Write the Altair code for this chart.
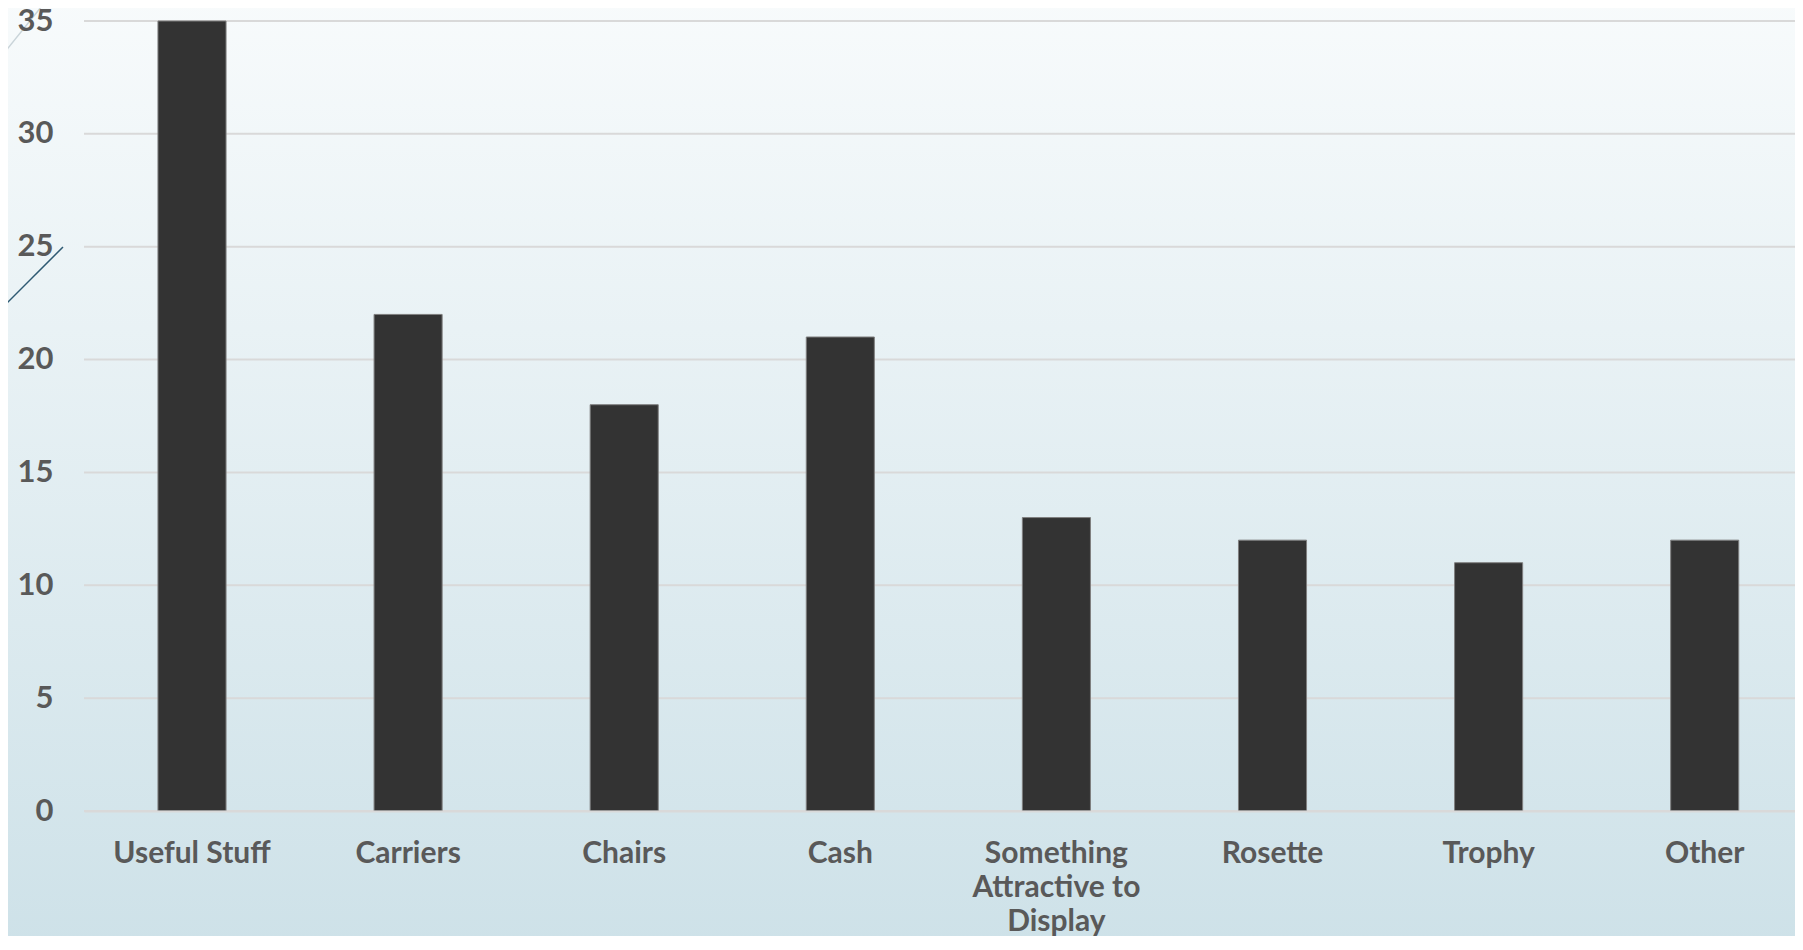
import altair as alt
import pandas as pd

categories = ["Useful Stuff", "Carriers", "Chairs", "Cash",
              "Something Attractive to Display", "Rosette", "Trophy", "Other"]
values = [35, 22, 18, 21, 13, 12, 11, 12]
y_ticks = [0, 5, 10, 15, 20, 25, 30, 35]

W = 1711
H = 790

df = pd.DataFrame({"cat": categories, "val": values})
grid_df = pd.DataFrame({"v": y_ticks})
one = pd.DataFrame({"a": [0]})

font = "Lato"
label_color = "#595959"

gradient = {
    "gradient": "linear", "x1": 0, "y1": 0, "x2": 0, "y2": 1,
    "stops": [{"offset": 0, "color": "#f8fbfc"}, {"offset": 1, "color": "#cde1e8"}],
}

bg = alt.Chart(one).mark_rect(fill=gradient, strokeWidth=0).encode(
    x=alt.value(-90), x2=alt.value(W + 20), y=alt.value(-30), y2=alt.value(H + 150)
)

deco1 = alt.Chart(one).mark_rule(color="#c9d4d9", strokeWidth=1.5).encode(
    x=alt.value(-84), x2=alt.value(-30), y=alt.value(37), y2=alt.value(-30)
)
deco2 = alt.Chart(one).mark_rule(color="#2e5a73", strokeWidth=1.5).encode(
    x=alt.value(-84), x2=alt.value(-21), y=alt.value(289), y2=alt.value(226)
)

grid = alt.Chart(grid_df).mark_rule(color="#d9d9d9", strokeWidth=2).encode(
    y=alt.Y("v:Q"), x=alt.value(0), x2=alt.value(W)
)

label_expr = ("datum.label == 'Something Attractive to Display' ? "
              "['Something', 'Attractive to', 'Display'] : datum.label")

bars = alt.Chart(df).mark_bar(color="#333333", stroke="#7f7f7f", strokeWidth=1).encode(
    x=alt.X("cat:N", sort=categories,
            scale=alt.Scale(paddingInner=0.685, paddingOuter=0.3013, align=0.568),
            axis=alt.Axis(title=None, labelAngle=0, ticks=False, domain=True,
                          domainColor="#d9d9d9", domainWidth=2, labelPadding=27,
                          labelFont=font, labelFontWeight="bold", labelFontSize=30,
                          labelColor=label_color, labelLimit=400, labelLineHeight=34,
                          labelExpr=label_expr, zindex=1)),
    y=alt.Y("val:Q", scale=alt.Scale(domain=[0, 35], nice=False),
            axis=alt.Axis(title=None, values=y_ticks, grid=False, ticks=False, domain=False,
                          labelPadding=31, labelFont=font, labelFontWeight="bold",
                          labelFontSize=31, labelColor=label_color, zindex=1)),
)

chart = alt.layer(bg, deco1, deco2, grid, bars).properties(
    width=W, height=H,
    autosize=alt.AutoSizeParams(type="none"),
    padding={"left": 76, "top": 13, "right": 0, "bottom": 125},
).configure_view(stroke=None)

chart.save("out.html", embed_options={"renderer": "svg", "actions": False})
